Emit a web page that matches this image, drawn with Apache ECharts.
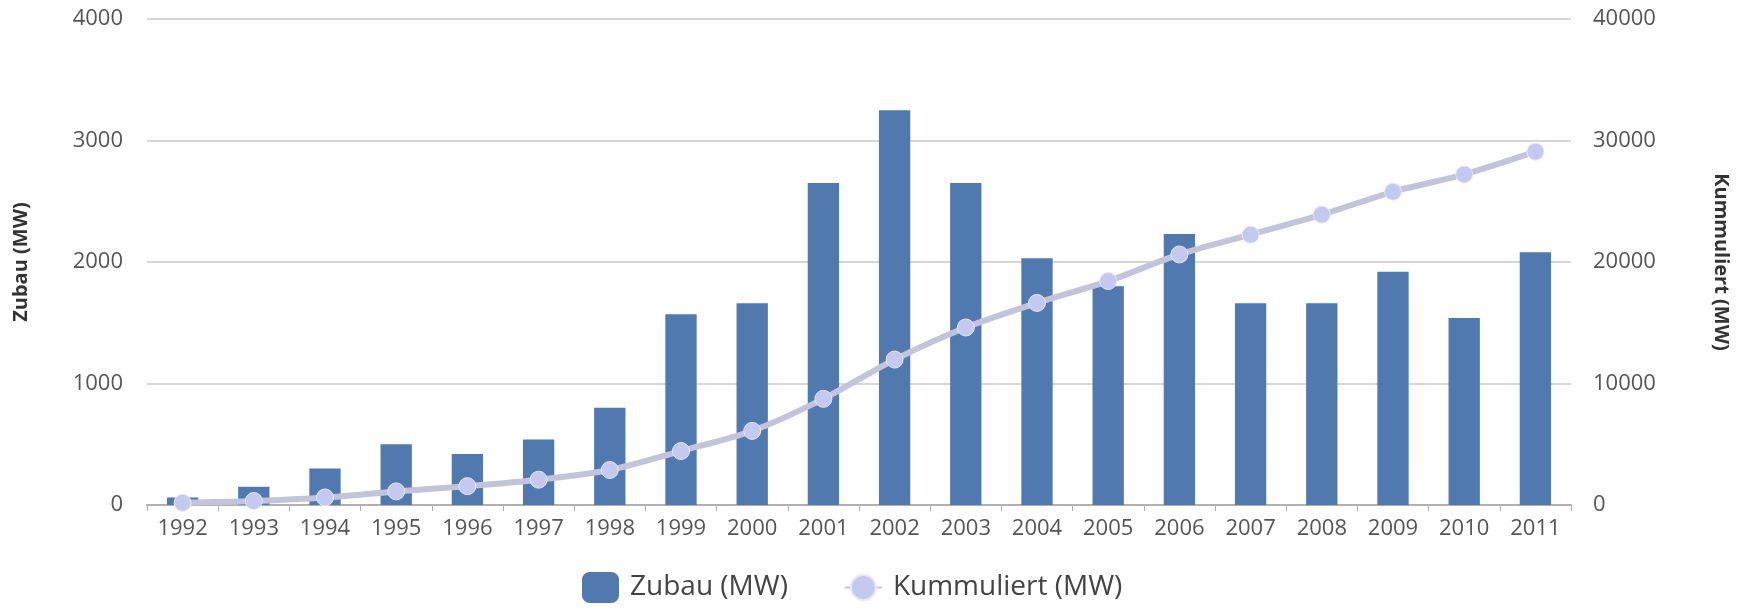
<!DOCTYPE html>
<html>
<head>
<meta charset="utf-8">
<script src="https://cdn.jsdelivr.net/npm/echarts@6/dist/echarts.min.js"></script>
<style>
  html, body { margin: 0; padding: 0; background: #fff; }
  #chart { width: 1747px; height: 611px; }
</style>
</head>
<body>
<div id="chart"></div>
<script>
const years = ['1992', '1993', '1994', '1995', '1996', '1997', '1998', '1999', '2000', '2001',
  '2002', '2003', '2004', '2005', '2006', '2007', '2008', '2009', '2010', '2011']
const zubau = [62, 150, 300, 500, 420, 540, 800, 1570, 1660, 2650,
  3250, 2650, 2030, 1800, 2230, 1660, 1660, 1920, 1540, 2080]
const kummuliert = [180, 330, 620, 1120, 1550, 2080, 2880, 4440, 6100, 8740,
  11970, 14610, 16630, 18430, 20620, 22250, 23900, 25780, 27210, 29080]

const chart = echarts.init(document.getElementById('chart'))
const labelFont = { fontFamily: 'Open Sans', fontSize: 22, color: '#555' }
const plain = v => String(v)

chart.setOption({
  animation: false,
  color: ['#5079b0', '#c6c9ef'],
  grid: { left: 147, right: 176, top: 19, bottom: 106, containLabel: false },
  legend: {
    left: 577,
    top: 567,
    itemGap: 56,
    itemWidth: 37,
    itemHeight: 31,
    textStyle: { fontFamily: 'Open Sans', fontSize: 28, color: '#444', padding: [0, 0, 0, 6] },
    data: [
      { name: 'Zubau (MW)', icon: 'roundRect' },
      { name: 'Kummuliert (MW)' }
    ]
  },
  xAxis: {
    type: 'category',
    data: years,
    axisLine: { lineStyle: { color: '#b0b0b0', width: 2 } },
    axisTick: { show: true, length: 6, lineStyle: { color: '#b0b0b0' } },
    axisLabel: Object.assign({ margin: 13, interval: 0 }, labelFont)
  },
  yAxis: [
    {
      type: 'value',
      min: 0,
      max: 4000,
      interval: 1000,
      name: 'Zubau (MW)',
      nameLocation: 'middle',
      nameGap: 116,
      nameTextStyle: { fontFamily: 'Open Sans', fontSize: 20, fontWeight: 'bold', color: '#333' },
      axisLabel: Object.assign({ margin: 24, formatter: plain }, labelFont),
      splitLine: { lineStyle: { color: '#d6d6d6', width: 2 } }
    },
    {
      type: 'value',
      min: 0,
      max: 40000,
      interval: 10000,
      name: 'Kummuliert (MW)',
      nameLocation: 'middle',
      nameRotate: -90,
      nameGap: 140,
      nameTextStyle: { fontFamily: 'Open Sans', fontSize: 20, fontWeight: 'bold', color: '#333' },
      axisLabel: Object.assign({ margin: 22, formatter: plain }, labelFont),
      splitLine: { show: false }
    }
  ],
  series: [
    {
      name: 'Zubau (MW)',
      type: 'bar',
      data: zubau,
      barWidth: '44%',
      itemStyle: { color: '#5079b0' }
    },
    {
      name: 'Kummuliert (MW)',
      type: 'line',
      yAxisIndex: 1,
      data: kummuliert,
      smooth: 0.3,
      symbol: 'circle',
      symbolSize: 17,
      lineStyle: { color: '#c3c4dc', width: 6 },
      itemStyle: { color: '#c6c9ef', borderColor: '#e6e8f8', borderWidth: 1 }
    }
  ]
})
</script>
</body>
</html>
